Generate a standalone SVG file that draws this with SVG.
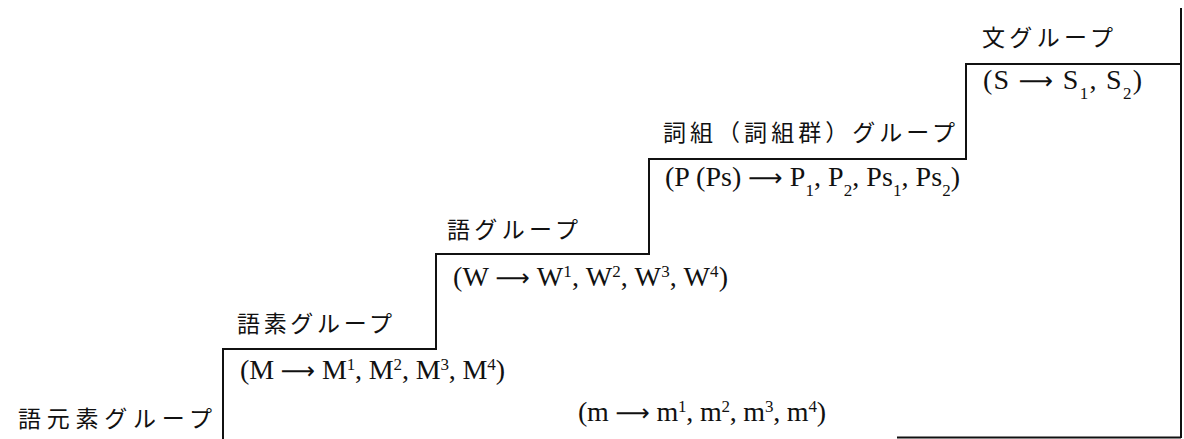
<svg xmlns="http://www.w3.org/2000/svg" width="1184" height="439" viewBox="0 0 1184 439">
<style>
.jp{font-family:"Noto Sans CJK JP","Noto Sans CJK SC",sans-serif;font-size:23px;fill:#111}
.f{font-family:"Liberation Serif","DejaVu Serif",serif;font-size:28px;fill:#111}
.s{font-size:17px}
.a{font-family:"DejaVu Sans",sans-serif;font-size:24px}
.ln{fill:none;stroke:#111;stroke-width:2}
</style>
<rect width="1184" height="439" fill="#fff"/>
<g id="connectors">
<path class="ln" d="M223,439 V349 H436 V254 H649 V159 H966 V64 H1181"/>
<path class="ln" d="M1181,8 V438"/>
<path class="ln" d="M897,437.5 H1181"/>
</g>
<g id="gogenso">
<text class="jp" x="18" y="427" textLength="194" lengthAdjust="spacing">語元素グループ</text>
<text class="f" x="578" y="421" textLength="248" lengthAdjust="spacing">(m <tspan class="a">⟶</tspan> m<tspan class="s" baseline-shift="super">1</tspan>, m<tspan class="s" baseline-shift="super">2</tspan>, m<tspan class="s" baseline-shift="super">3</tspan>, m<tspan class="s" baseline-shift="super">4</tspan>)</text>
</g>
<g id="goso">
<text class="jp" x="237" y="332" textLength="155" lengthAdjust="spacing">語素グループ</text>
<text class="f" x="240" y="379" textLength="265" lengthAdjust="spacing">(M <tspan class="a">⟶</tspan> M<tspan class="s" baseline-shift="super">1</tspan>, M<tspan class="s" baseline-shift="super">2</tspan>, M<tspan class="s" baseline-shift="super">3</tspan>, M<tspan class="s" baseline-shift="super">4</tspan>)</text>
</g>
<g id="go">
<text class="jp" x="447" y="238" textLength="131" lengthAdjust="spacing">語グループ</text>
<text class="f" x="453" y="286" textLength="275" lengthAdjust="spacing">(W <tspan class="a">⟶</tspan> W<tspan class="s" baseline-shift="super">1</tspan>, W<tspan class="s" baseline-shift="super">2</tspan>, W<tspan class="s" baseline-shift="super">3</tspan>, W<tspan class="s" baseline-shift="super">4</tspan>)</text>
</g>
<g id="shiso">
<text class="jp" x="663" y="141" textLength="292" lengthAdjust="spacing">詞組（詞組群）グループ</text>
<text class="f" x="665" y="186" textLength="295" lengthAdjust="spacing">(P (Ps) <tspan class="a">⟶</tspan> P<tspan class="s" baseline-shift="sub">1</tspan>, P<tspan class="s" baseline-shift="sub">2</tspan>, Ps<tspan class="s" baseline-shift="sub">1</tspan>, Ps<tspan class="s" baseline-shift="sub">2</tspan>)</text>
</g>
<g id="bun">
<text class="jp" x="982" y="46" textLength="131" lengthAdjust="spacing">文グループ</text>
<text class="f" x="983" y="89" textLength="159" lengthAdjust="spacing">(S <tspan class="a">⟶</tspan> S<tspan class="s" baseline-shift="sub">1</tspan>, S<tspan class="s" baseline-shift="sub">2</tspan>)</text>
</g>
</svg>
